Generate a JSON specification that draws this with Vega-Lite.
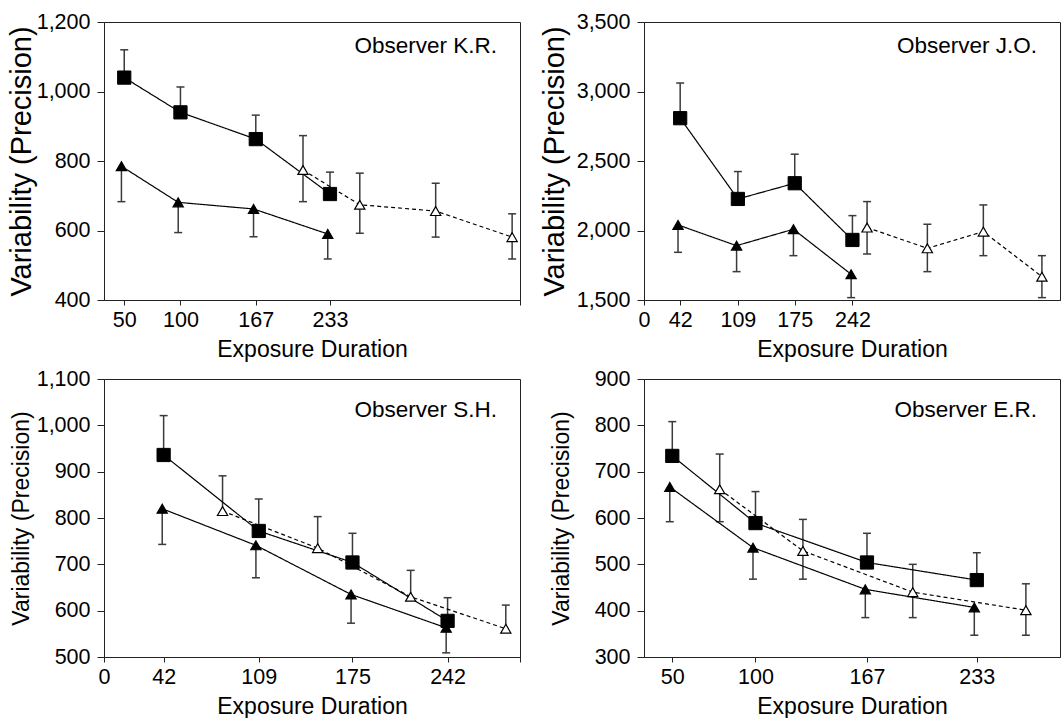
{
  "$schema": "https://vega.github.io/schema/vega-lite/v6.json",
  "padding": {"left": 6, "top": 10, "right": 0, "bottom": 0},
  "autosize": {"type": "pad"},
  "background": "white",
  "config": {
    "font": "Liberation Sans",
    "view": {"stroke": "#222", "strokeWidth": 1},
    "axis": {"grid": false, "domainColor": "#222", "tickColor": "#222", "labelColor": "black", "titleColor": "black", "labelFont": "Liberation Sans", "titleFont": "Liberation Sans", "labelFontSize": 21.5, "titleFontWeight": "normal", "domainWidth": 1, "tickWidth": 1, "labelFlush": false, "labelOverlap": false},
    "axisX": {"tickSize": 5, "labelPadding": 4, "titleFontSize": 23, "titlePadding": 8},
    "axisY": {"tickSize": 7, "labelPadding": 7, "format": ",d"}
  },
  "data": {"values": [
    {"p": "KR", "s": "sq", "x": 50, "y": 1040, "lo": 1040, "hi": 1120},
    {"p": "KR", "s": "sq", "x": 100, "y": 940, "lo": 940, "hi": 1013},
    {"p": "KR", "s": "sq", "x": 167, "y": 863, "lo": 863, "hi": 932},
    {"p": "KR", "s": "sq", "x": 233, "y": 705, "lo": 705, "hi": 768},
    {"p": "KR", "s": "tri", "x": 47.5, "y": 785, "lo": 683, "hi": 785},
    {"p": "KR", "s": "tri", "x": 98, "y": 681, "lo": 594, "hi": 681},
    {"p": "KR", "s": "tri", "x": 165, "y": 662, "lo": 582, "hi": 662},
    {"p": "KR", "s": "tri", "x": 231, "y": 590, "lo": 518, "hi": 590},
    {"p": "KR", "s": "open", "x": 209, "y": 774, "lo": 683, "hi": 873},
    {"p": "KR", "s": "open", "x": 259.5, "y": 674, "lo": 592, "hi": 765},
    {"p": "KR", "s": "open", "x": 327, "y": 656, "lo": 581, "hi": 736},
    {"p": "KR", "s": "open", "x": 395, "y": 581, "lo": 518, "hi": 648},
    {"p": "JO", "s": "sq", "x": 42, "y": 2808, "lo": 2808, "hi": 3061},
    {"p": "JO", "s": "sq", "x": 109, "y": 2227, "lo": 2227, "hi": 2424},
    {"p": "JO", "s": "sq", "x": 175, "y": 2340, "lo": 2340, "hi": 2549},
    {"p": "JO", "s": "sq", "x": 242, "y": 1932, "lo": 1932, "hi": 2107},
    {"p": "JO", "s": "tri", "x": 39.5, "y": 2040, "lo": 1843, "hi": 2040},
    {"p": "JO", "s": "tri", "x": 107.5, "y": 1891, "lo": 1704, "hi": 1891},
    {"p": "JO", "s": "tri", "x": 173.5, "y": 2009, "lo": 1819, "hi": 2009},
    {"p": "JO", "s": "tri", "x": 240.5, "y": 1685, "lo": 1517, "hi": 1685},
    {"p": "JO", "s": "open", "x": 259, "y": 2021, "lo": 1831, "hi": 2208},
    {"p": "JO", "s": "open", "x": 329, "y": 1872, "lo": 1704, "hi": 2045},
    {"p": "JO", "s": "open", "x": 394, "y": 1992, "lo": 1819, "hi": 2184},
    {"p": "JO", "s": "open", "x": 462, "y": 1668, "lo": 1517, "hi": 1819},
    {"p": "SH", "s": "sq", "x": 42, "y": 936, "lo": 936, "hi": 1021},
    {"p": "SH", "s": "sq", "x": 109, "y": 772, "lo": 772, "hi": 841},
    {"p": "SH", "s": "sq", "x": 175, "y": 704, "lo": 704, "hi": 767},
    {"p": "SH", "s": "sq", "x": 242, "y": 578, "lo": 578, "hi": 628},
    {"p": "SH", "s": "tri", "x": 41, "y": 820, "lo": 743, "hi": 820},
    {"p": "SH", "s": "tri", "x": 107, "y": 741, "lo": 671, "hi": 741},
    {"p": "SH", "s": "tri", "x": 174, "y": 635, "lo": 573, "hi": 635},
    {"p": "SH", "s": "tri", "x": 241, "y": 563, "lo": 509, "hi": 563},
    {"p": "SH", "s": "open", "x": 83.5, "y": 815, "lo": 815, "hi": 891},
    {"p": "SH", "s": "open", "x": 150.5, "y": 735, "lo": 735, "hi": 803},
    {"p": "SH", "s": "open", "x": 216, "y": 630, "lo": 630, "hi": 687},
    {"p": "SH", "s": "open", "x": 283, "y": 561, "lo": 561, "hi": 612},
    {"p": "ER", "s": "sq", "x": 50, "y": 734, "lo": 734, "hi": 808},
    {"p": "ER", "s": "sq", "x": 100, "y": 589, "lo": 589, "hi": 657},
    {"p": "ER", "s": "sq", "x": 167, "y": 504, "lo": 504, "hi": 567},
    {"p": "ER", "s": "sq", "x": 233, "y": 466, "lo": 466, "hi": 525},
    {"p": "ER", "s": "tri", "x": 48.5, "y": 667, "lo": 592, "hi": 667},
    {"p": "ER", "s": "tri", "x": 98.5, "y": 536, "lo": 468, "hi": 536},
    {"p": "ER", "s": "tri", "x": 166, "y": 446, "lo": 385, "hi": 446},
    {"p": "ER", "s": "tri", "x": 231.5, "y": 407, "lo": 347, "hi": 407},
    {"p": "ER", "s": "open", "x": 78.5, "y": 662, "lo": 592, "hi": 738},
    {"p": "ER", "s": "open", "x": 128.5, "y": 529, "lo": 468, "hi": 597},
    {"p": "ER", "s": "open", "x": 194.5, "y": 440, "lo": 385, "hi": 500},
    {"p": "ER", "s": "open", "x": 262.5, "y": 401, "lo": 347, "hi": 458}
  ]},
  "columns": 2,
  "spacing": {"row": 79, "column": 124},
  "bounds": "flush",
  "concat": [
    {
      "width": 416, "height": 278,
      "title": {"text": "Observer K.R.", "anchor": "end", "frame": "group", "orient": "top", "offset": -64, "dx": -23, "fontSize": 22.5, "fontWeight": "normal", "baseline": "alphabetic", "color": "black", "font": "Liberation Sans"},
      "transform": [{"filter": "datum.p === 'KR'"}],
      "encoding": {
        "x": {"field": "x", "type": "quantitative", "scale": {"domain": [32, 402], "nice": false, "zero": false}, "axis": {"values": [50, 100, 167, 233, 402], "labelExpr": "datum.value > 400 ? '' : datum.label"}, "title": "Exposure Duration"},
        "y": {"field": "y", "type": "quantitative", "scale": {"domain": [400, 1200], "nice": false, "zero": false}, "axis": {"values": [400, 600, 800, 1000, 1200], "titleFontSize": 29, "titlePadding": 0}, "title": "Variability (Precision)"}
      },
      "layer": [
        {"mark": {"type": "rule", "color": "#3a3a3a", "strokeWidth": 1.5}, "encoding": {"y": {"field": "lo", "type": "quantitative", "scale": {"domain": [400, 1200], "nice": false, "zero": false}, "axis": {"values": [400, 600, 800, 1000, 1200], "titleFontSize": 29, "titlePadding": 0}, "title": "Variability (Precision)"}, "y2": {"field": "hi"}}},
        {"transform": [{"filter": "datum.hi > datum.y"}], "mark": {"type": "tick", "orient": "horizontal", "size": 8, "thickness": 1.5, "color": "#3a3a3a", "opacity": 1}, "encoding": {"y": {"field": "hi", "type": "quantitative", "scale": {"domain": [400, 1200], "nice": false, "zero": false}, "axis": {"values": [400, 600, 800, 1000, 1200], "titleFontSize": 29, "titlePadding": 0}, "title": "Variability (Precision)"}}},
        {"transform": [{"filter": "datum.lo < datum.y"}], "mark": {"type": "tick", "orient": "horizontal", "size": 8, "thickness": 1.5, "color": "#3a3a3a", "opacity": 1}, "encoding": {"y": {"field": "lo", "type": "quantitative", "scale": {"domain": [400, 1200], "nice": false, "zero": false}, "axis": {"values": [400, 600, 800, 1000, 1200], "titleFontSize": 29, "titlePadding": 0}, "title": "Variability (Precision)"}}},
        {"mark": {"type": "line", "color": "black", "strokeWidth": 1.2}, "encoding": {"detail": {"field": "s"}, "strokeDash": {"field": "s", "type": "nominal", "scale": {"domain": ["sq", "tri", "open"], "range": [[1, 0], [1, 0], [4, 3]]}, "legend": null}}},
        {"transform": [{"filter": "datum.s === 'sq'"}], "mark": {"type": "point", "shape": "square", "size": 175, "filled": true, "fill": "black", "stroke": "black", "strokeWidth": 1, "opacity": 1}},
        {"transform": [{"filter": "datum.s !== 'sq'"}], "mark": {"type": "point", "shape": "triangle-up", "size": 105, "filled": true, "stroke": "black", "strokeWidth": 1.2, "opacity": 1}, "encoding": {"fill": {"field": "s", "type": "nominal", "scale": {"domain": ["tri", "open"], "range": ["black", "white"]}, "legend": null}}}
      ]
    },
    {
      "width": 416, "height": 278,
      "title": {"text": "Observer J.O.", "anchor": "end", "frame": "group", "orient": "top", "offset": -64, "dx": -23, "fontSize": 22.5, "fontWeight": "normal", "baseline": "alphabetic", "color": "black", "font": "Liberation Sans"},
      "transform": [{"filter": "datum.p === 'JO'"}],
      "encoding": {
        "x": {"field": "x", "type": "quantitative", "scale": {"domain": [0, 483], "nice": false, "zero": false}, "axis": {"values": [0, 42, 109, 175, 242]}, "title": "Exposure Duration"},
        "y": {"field": "y", "type": "quantitative", "scale": {"domain": [1500, 3500], "nice": false, "zero": false}, "axis": {"values": [1500, 2000, 2500, 3000, 3500], "titleFontSize": 29, "titlePadding": 7}, "title": "Variability (Precision)"}
      },
      "layer": [
        {"mark": {"type": "rule", "color": "#3a3a3a", "strokeWidth": 1.5}, "encoding": {"y": {"field": "lo", "type": "quantitative", "scale": {"domain": [1500, 3500], "nice": false, "zero": false}, "axis": {"values": [1500, 2000, 2500, 3000, 3500], "titleFontSize": 29, "titlePadding": 7}, "title": "Variability (Precision)"}, "y2": {"field": "hi"}}},
        {"transform": [{"filter": "datum.hi > datum.y"}], "mark": {"type": "tick", "orient": "horizontal", "size": 8, "thickness": 1.5, "color": "#3a3a3a", "opacity": 1}, "encoding": {"y": {"field": "hi", "type": "quantitative", "scale": {"domain": [1500, 3500], "nice": false, "zero": false}, "axis": {"values": [1500, 2000, 2500, 3000, 3500], "titleFontSize": 29, "titlePadding": 7}, "title": "Variability (Precision)"}}},
        {"transform": [{"filter": "datum.lo < datum.y"}], "mark": {"type": "tick", "orient": "horizontal", "size": 8, "thickness": 1.5, "color": "#3a3a3a", "opacity": 1}, "encoding": {"y": {"field": "lo", "type": "quantitative", "scale": {"domain": [1500, 3500], "nice": false, "zero": false}, "axis": {"values": [1500, 2000, 2500, 3000, 3500], "titleFontSize": 29, "titlePadding": 7}, "title": "Variability (Precision)"}}},
        {"mark": {"type": "line", "color": "black", "strokeWidth": 1.2}, "encoding": {"detail": {"field": "s"}, "strokeDash": {"field": "s", "type": "nominal", "scale": {"domain": ["sq", "tri", "open"], "range": [[1, 0], [1, 0], [4, 3]]}, "legend": null}}},
        {"transform": [{"filter": "datum.s === 'sq'"}], "mark": {"type": "point", "shape": "square", "size": 175, "filled": true, "fill": "black", "stroke": "black", "strokeWidth": 1, "opacity": 1}},
        {"transform": [{"filter": "datum.s !== 'sq'"}], "mark": {"type": "point", "shape": "triangle-up", "size": 105, "filled": true, "stroke": "black", "strokeWidth": 1.2, "opacity": 1}, "encoding": {"fill": {"field": "s", "type": "nominal", "scale": {"domain": ["tri", "open"], "range": ["black", "white"]}, "legend": null}}}
      ]
    },
    {
      "width": 416, "height": 278,
      "title": {"text": "Observer S.H.", "anchor": "end", "frame": "group", "orient": "top", "offset": -71, "dx": -23, "fontSize": 22.5, "fontWeight": "normal", "baseline": "alphabetic", "color": "black", "font": "Liberation Sans"},
      "transform": [{"filter": "datum.p === 'SH'"}],
      "encoding": {
        "x": {"field": "x", "type": "quantitative", "scale": {"domain": [0, 293], "nice": false, "zero": false}, "axis": {"values": [0, 42, 109, 175, 242, 293], "labelExpr": "datum.value > 290 ? '' : datum.label"}, "title": "Exposure Duration"},
        "y": {"field": "y", "type": "quantitative", "scale": {"domain": [500, 1100], "nice": false, "zero": false}, "axis": {"values": [500, 600, 700, 800, 900, 1000, 1100], "titleFontSize": 23, "titlePadding": 3}, "title": "Variability (Precision)"}
      },
      "layer": [
        {"mark": {"type": "rule", "color": "#3a3a3a", "strokeWidth": 1.5}, "encoding": {"y": {"field": "lo", "type": "quantitative", "scale": {"domain": [500, 1100], "nice": false, "zero": false}, "axis": {"values": [500, 600, 700, 800, 900, 1000, 1100], "titleFontSize": 23, "titlePadding": 3}, "title": "Variability (Precision)"}, "y2": {"field": "hi"}}},
        {"transform": [{"filter": "datum.hi > datum.y"}], "mark": {"type": "tick", "orient": "horizontal", "size": 8, "thickness": 1.5, "color": "#3a3a3a", "opacity": 1}, "encoding": {"y": {"field": "hi", "type": "quantitative", "scale": {"domain": [500, 1100], "nice": false, "zero": false}, "axis": {"values": [500, 600, 700, 800, 900, 1000, 1100], "titleFontSize": 23, "titlePadding": 3}, "title": "Variability (Precision)"}}},
        {"transform": [{"filter": "datum.lo < datum.y"}], "mark": {"type": "tick", "orient": "horizontal", "size": 8, "thickness": 1.5, "color": "#3a3a3a", "opacity": 1}, "encoding": {"y": {"field": "lo", "type": "quantitative", "scale": {"domain": [500, 1100], "nice": false, "zero": false}, "axis": {"values": [500, 600, 700, 800, 900, 1000, 1100], "titleFontSize": 23, "titlePadding": 3}, "title": "Variability (Precision)"}}},
        {"mark": {"type": "line", "color": "black", "strokeWidth": 1.2}, "encoding": {"detail": {"field": "s"}, "strokeDash": {"field": "s", "type": "nominal", "scale": {"domain": ["sq", "tri", "open"], "range": [[1, 0], [1, 0], [4, 3]]}, "legend": null}}},
        {"transform": [{"filter": "datum.s === 'sq'"}], "mark": {"type": "point", "shape": "square", "size": 175, "filled": true, "fill": "black", "stroke": "black", "strokeWidth": 1, "opacity": 1}},
        {"transform": [{"filter": "datum.s !== 'sq'"}], "mark": {"type": "point", "shape": "triangle-up", "size": 105, "filled": true, "stroke": "black", "strokeWidth": 1.2, "opacity": 1}, "encoding": {"fill": {"field": "s", "type": "nominal", "scale": {"domain": ["tri", "open"], "range": ["black", "white"]}, "legend": null}}}
      ]
    },
    {
      "width": 416, "height": 278,
      "title": {"text": "Observer E.R.", "anchor": "end", "frame": "group", "orient": "top", "offset": -71, "dx": -23, "fontSize": 22.5, "fontWeight": "normal", "baseline": "alphabetic", "color": "black", "font": "Liberation Sans"},
      "transform": [{"filter": "datum.p === 'ER'"}],
      "encoding": {
        "x": {"field": "x", "type": "quantitative", "scale": {"domain": [33, 283], "nice": false, "zero": false}, "axis": {"values": [50, 100, 167, 233]}, "title": "Exposure Duration"},
        "y": {"field": "y", "type": "quantitative", "scale": {"domain": [300, 900], "nice": false, "zero": false}, "axis": {"values": [300, 400, 500, 600, 700, 800, 900], "titleFontSize": 23, "titlePadding": 21}, "title": "Variability (Precision)"}
      },
      "layer": [
        {"mark": {"type": "rule", "color": "#3a3a3a", "strokeWidth": 1.5}, "encoding": {"y": {"field": "lo", "type": "quantitative", "scale": {"domain": [300, 900], "nice": false, "zero": false}, "axis": {"values": [300, 400, 500, 600, 700, 800, 900], "titleFontSize": 23, "titlePadding": 21}, "title": "Variability (Precision)"}, "y2": {"field": "hi"}}},
        {"transform": [{"filter": "datum.hi > datum.y"}], "mark": {"type": "tick", "orient": "horizontal", "size": 8, "thickness": 1.5, "color": "#3a3a3a", "opacity": 1}, "encoding": {"y": {"field": "hi", "type": "quantitative", "scale": {"domain": [300, 900], "nice": false, "zero": false}, "axis": {"values": [300, 400, 500, 600, 700, 800, 900], "titleFontSize": 23, "titlePadding": 21}, "title": "Variability (Precision)"}}},
        {"transform": [{"filter": "datum.lo < datum.y"}], "mark": {"type": "tick", "orient": "horizontal", "size": 8, "thickness": 1.5, "color": "#3a3a3a", "opacity": 1}, "encoding": {"y": {"field": "lo", "type": "quantitative", "scale": {"domain": [300, 900], "nice": false, "zero": false}, "axis": {"values": [300, 400, 500, 600, 700, 800, 900], "titleFontSize": 23, "titlePadding": 21}, "title": "Variability (Precision)"}}},
        {"mark": {"type": "line", "color": "black", "strokeWidth": 1.2}, "encoding": {"detail": {"field": "s"}, "strokeDash": {"field": "s", "type": "nominal", "scale": {"domain": ["sq", "tri", "open"], "range": [[1, 0], [1, 0], [4, 3]]}, "legend": null}}},
        {"transform": [{"filter": "datum.s === 'sq'"}], "mark": {"type": "point", "shape": "square", "size": 175, "filled": true, "fill": "black", "stroke": "black", "strokeWidth": 1, "opacity": 1}},
        {"transform": [{"filter": "datum.s !== 'sq'"}], "mark": {"type": "point", "shape": "triangle-up", "size": 105, "filled": true, "stroke": "black", "strokeWidth": 1.2, "opacity": 1}, "encoding": {"fill": {"field": "s", "type": "nominal", "scale": {"domain": ["tri", "open"], "range": ["black", "white"]}, "legend": null}}}
      ]
    }
  ]
}
